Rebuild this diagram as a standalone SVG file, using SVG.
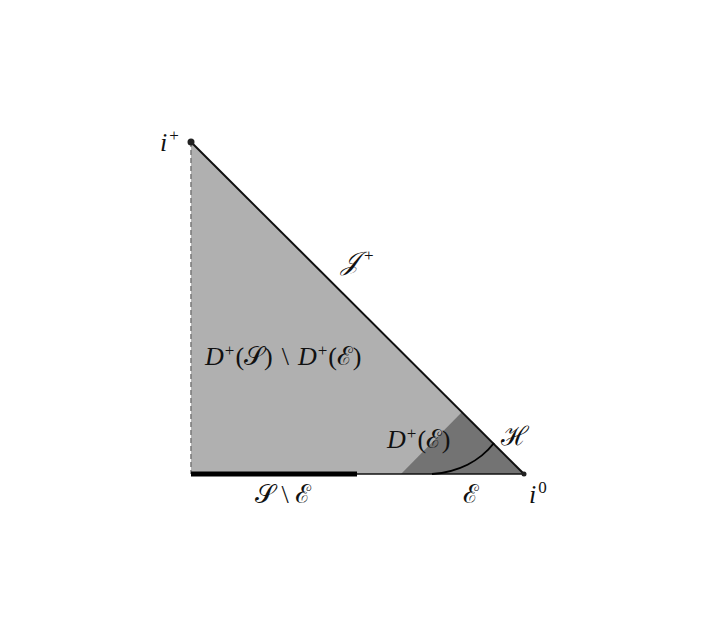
<svg xmlns="http://www.w3.org/2000/svg" width="703" height="636" viewBox="0 0 703 636">
<style>
text{font-family:"Liberation Serif","DejaVu Serif","Noto Sans",serif;font-size:26px;fill:#111}
.it{font-style:italic}
.sup{font-size:17px;font-style:normal}
</style>
<rect width="703" height="636" fill="#fff"/>
<g id="regions">
<polygon id="outer" points="191,142 191,474 524,474" fill="#b0b0b0"/>
<polygon id="inner" points="401,474 462,412 524,474" fill="#737373"/>
</g>
<g id="connectors" fill="none">
<line x1="191" y1="142" x2="191" y2="474" stroke="#777" stroke-width="1.5" stroke-dasharray="5,3"/>
<line x1="191" y1="142" x2="524" y2="474" stroke="#111" stroke-width="2"/>
<line x1="357" y1="474" x2="524" y2="474" stroke="#111" stroke-width="1.5"/>
<line x1="191" y1="474" x2="357" y2="474" stroke="#000" stroke-width="5"/>
<path id="horizon" d="M432,474 C458,472 480,461 494,443" stroke="#000" stroke-width="2"/>
</g>
<g id="points">
<circle cx="191" cy="142" r="3.5" fill="#222"/>
<circle cx="524" cy="474" r="2.5" fill="#222"/>
</g>
<g id="labels">
<text x="160" y="151"><tspan class="it">i</tspan><tspan class="sup" dx="2" dy="-10">+</tspan></text>
<text x="341" y="270" class="it">𝒥<tspan class="sup" dx="5" dy="-9">+</tspan></text>
<text x="205" y="365"><tspan class="it">D</tspan><tspan class="sup" dx="1" dy="-9">+</tspan><tspan dx="1" dy="9">(𝒮)</tspan><tspan dx="9">\</tspan><tspan dx="9" class="it">D</tspan><tspan class="sup" dx="1" dy="-9">+</tspan><tspan dx="1" dy="9">(ℰ)</tspan></text>
<text x="387" y="448"><tspan class="it">D</tspan><tspan class="sup" dx="1" dy="-9">+</tspan><tspan dx="1" dy="9">(ℰ)</tspan></text>
<text x="501" y="445">ℋ</text>
<text x="255" y="503">𝒮 \ ℰ</text>
<text x="463" y="503">ℰ</text>
<text x="529" y="503"><tspan class="it">i</tspan><tspan class="sup" dx="2" dy="-10">0</tspan></text>
</g>
</svg>
